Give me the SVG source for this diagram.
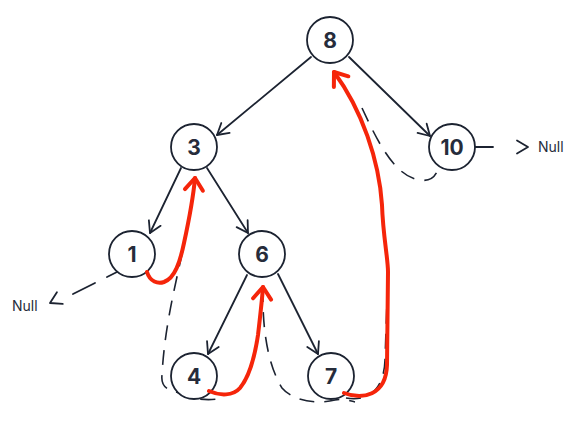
<svg xmlns="http://www.w3.org/2000/svg" width="585" height="425" viewBox="0 0 585 425">
<style>
.edge{fill:none;stroke:#1c2331;stroke-width:1.8;stroke-linecap:round}
.dash{fill:none;stroke:#1c2331;stroke-width:1.6;stroke-dasharray:15 10}
.node circle{fill:#fff;stroke:#1c2331;stroke-width:1.8}
.node text{font-family:Inter,"Liberation Sans",sans-serif;font-weight:700;font-size:21px;fill:#262c3b;text-anchor:middle}
.null{font-family:Inter,"Liberation Sans",sans-serif;font-size:14px;fill:#262c3b}
.red{fill:none;stroke:#f5250a;stroke-width:4;stroke-linecap:round;stroke-linejoin:round}
</style>
<defs>
<marker id="arr" markerUnits="userSpaceOnUse" markerWidth="20" markerHeight="20" refX="11" refY="10" orient="auto" overflow="visible">
<path d="M0,3.5 L11,10 L0,16.5" fill="none" stroke="#1c2331" stroke-width="1.8" stroke-linecap="round" stroke-linejoin="round"/>
</marker>
<marker id="rarr" markerUnits="userSpaceOnUse" markerWidth="24" markerHeight="24" refX="12" refY="12" orient="auto" overflow="visible">
<path d="M0,3 L12,12 L0,21" fill="none" stroke="#f5250a" stroke-width="4" stroke-linecap="round" stroke-linejoin="round"/>
</marker>
</defs>
<g id="connectors">
<path class="dash" d="M195,178 C190,240 166,300 162,375 C160,392 175,390 190,397 C200,400 210,400 218,399"/>
<path class="dash" d="M263,287 C262,330 268,365 282,388 C292,400 315,405 335,400 C345,398 350,401 355,402"/>
<path class="dash" d="M346,398 C368,402 384,390 385,360 L388,272 C388,258 383,236 382,205 C379,160 362,110 334,72"/>
<path class="dash" d="M362,108 C376,138 394,177 420,180 C430,182 436,176 438,169"/>
<path class="edge" d="M311,57 L217,135" marker-end="url(#arr)"/>
<path class="edge" d="M349,57 L430,136" marker-end="url(#arr)"/>
<path class="edge" d="M181,168 L150,233" marker-end="url(#arr)"/>
<path class="edge" d="M207,168 L248,233" marker-end="url(#arr)"/>
<path class="edge" d="M247,275 L208,354" marker-end="url(#arr)"/>
<path class="edge" d="M278,274 L318,354" marker-end="url(#arr)"/>
<path class="edge" d="M475,147 L493,147"/>
<path class="edge" d="M513,147 L528,147" stroke-opacity="0" marker-end="url(#arr)"/>
<path class="edge" d="M117,272 L107,277 M95,283 L73,294"/>
<path class="edge" d="M60,298 L50,303" stroke-opacity="0" marker-end="url(#arr)"/>
</g>
<g id="node-8" class="node"><circle cx="330" cy="40" r="23"/><text x="330" y="48">8</text></g>
<g id="node-3" class="node"><circle cx="194" cy="147" r="23"/><text x="194" y="155">3</text></g>
<g id="node-10" class="node"><circle cx="452" cy="147" r="23"/><text x="452" y="155">10</text></g>
<g id="node-1" class="node"><circle cx="132" cy="254" r="23"/><text x="132" y="262">1</text></g>
<g id="node-6" class="node"><circle cx="262" cy="254" r="23"/><text x="262" y="262">6</text></g>
<g id="node-4" class="node"><circle cx="194" cy="376" r="23"/><text x="194" y="384">4</text></g>
<g id="node-7" class="node"><circle cx="331" cy="376" r="23"/><text x="331" y="384">7</text></g>
<g id="null-left"><text class="null" x="12" y="311">Null</text></g>
<g id="null-right"><text class="null" x="538" y="152">Null</text></g>
<g id="threads">
<path class="red" d="M147,272 C150,282 158,284 164,282 C175,278 180,262 184,243 C189,220 193,200 195,178" marker-end="url(#rarr)"/>
<path class="red" d="M209,391 C220,396 233,396 240,388 C250,376 255,355 258,335 C260,318 262,300 263,287" marker-end="url(#rarr)"/>
<path class="red" d="M344,393 C362,400 386,396 387,365 L388,272 C388,258 383,236 382,205 C379,160 362,110 334,72" marker-end="url(#rarr)"/>
</g>
</svg>
